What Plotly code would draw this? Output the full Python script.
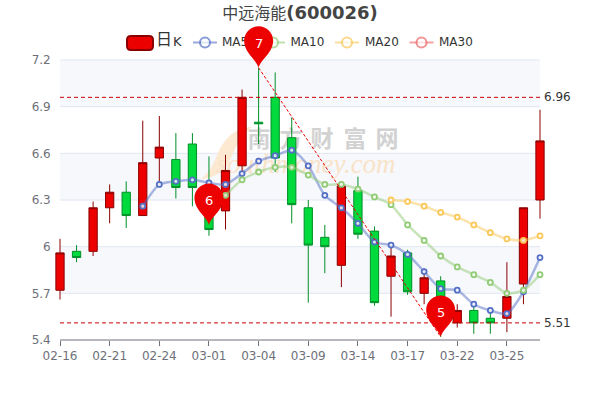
import plotly.graph_objects as go

dates = ["02-16","02-17","02-18","02-21","02-22","02-23","02-24","02-25","02-28","03-01",
         "03-02","03-03","03-04","03-07","03-08","03-09","03-10","03-11","03-14","03-15",
         "03-16","03-17","03-18","03-21","03-22","03-23","03-24","03-25","03-28","03-29"]
tick_dates = ["02-16","02-21","02-24","03-01","03-04","03-09","03-14","03-17","03-22","03-25"]
opens  = [5.72,5.97,5.97,6.25,6.35,6.20,6.57,6.56,6.66,6.30,6.23,6.52,6.80,6.96,6.70,6.25,6.06,5.88,6.36,6.10,5.81,5.96,5.70,5.78,5.51,5.59,5.54,5.54,5.76,6.30]
closes = [5.96,5.93,6.25,6.35,6.20,6.54,6.64,6.38,6.38,6.11,6.49,6.96,6.79,6.57,6.27,6.01,6.00,6.39,6.08,5.64,5.94,5.71,5.80,5.58,5.59,5.51,5.51,5.68,6.25,6.68]
lows   = [5.66,5.90,5.94,6.15,6.12,6.20,6.40,6.31,6.26,6.07,6.11,6.46,6.66,6.48,6.15,5.64,5.83,5.74,6.05,5.62,5.55,5.69,5.63,5.42,5.48,5.44,5.44,5.45,5.63,6.18]
highs  = [6.05,6.01,6.29,6.40,6.42,6.81,6.84,6.73,6.73,6.58,6.59,7.01,7.15,7.12,6.83,6.30,6.14,6.40,6.45,6.13,6.01,5.98,5.86,5.81,5.63,5.62,5.58,5.90,6.25,6.88]
ma5  = [None]*5 + [6.26,6.40,6.42,6.43,6.41,6.40,6.47,6.55,6.585,6.62,6.52,6.33,6.25,6.15,6.03,6.01,5.95,5.84,5.73,5.72,5.63,5.59,5.57,5.71,5.93]
ma10 = [None]*10 + [6.33,6.43,6.48,6.51,6.51,6.46,6.40,6.40,6.37,6.32,6.27,6.14,6.04,5.94,5.87,5.82,5.77,5.70,5.72,5.82]
ma20 = [None]*20 + [6.30,6.29,6.26,6.22,6.19,6.14,6.09,6.05,6.04,6.07]
ma30 = [None]*30
ma_names = ["MA5","MA10","MA20","MA30"]
ma_rgb = ["84,112,198","145,204,117","250,200,88","238,102,102"]
mark_levels = [6.96,5.51]
pins = [("03-04",7.15,"7"),("03-01",6.14,"6"),("03-21",5.42,"5")]
yticks = [5.4,5.7,6.0,6.3,6.6,6.9,7.2]
yticklabels = ["5.4","5.7","6","6.3","6.6","6.9","7.2"]
wm_chars = ["南","方","财","富","网"]
wm_x = [259,291,322,355,387]

FONT = "DejaVu Sans, Noto Sans CJK SC, sans-serif"
L, R, T, B = 60.0, 540.0, 60.0, 340.0
step = (R-L)/29
x_lo, x_hi = L-step/2, R+step/2
def px(i): return (L+i*step)/600
def py(v): return (400-(T+(7.2-v)/1.8*(B-T)))/400

fig = go.Figure()
# full-canvas layer: watermark + legend, under the chart subplot
fig.add_trace(go.Scatter(x=wm_x, y=[141]*5, text=wm_chars, mode="text", xaxis="x", yaxis="y",
    textfont=dict(family="Noto Sans CJK SC", size=23, color="#d2d2d2", weight=700), hoverinfo="skip"))
fig.add_trace(go.Scatter(x=[306], y=[166], text=["southmoney.com"], mode="text",
    textfont=dict(family="Liberation Serif", size=27, color="#f9e3c8", style="italic"), hoverinfo="skip"))
legend_cx = [205,273,347,421.5]
legend_tx = [222,290.5,365,439]
for cx, rgb in zip(legend_cx, ma_rgb):
    fig.add_trace(go.Scatter(x=[cx-12,cx,cx+12], y=[42.5]*3, mode="lines+markers", hoverinfo="skip",
        line=dict(color=f"rgba({rgb},0.6)", width=2),
        marker=dict(size=[0,10,0], color="white", line=dict(color=f"rgb({rgb})", width=2))))
fig.add_trace(go.Scatter(x=legend_tx, y=[42.5]*4, text=ma_names, mode="text", textposition="middle right",
    textfont=dict(family=FONT, size=12, color="#333333"), hoverinfo="skip"))
fig.add_trace(go.Scatter(x=[156,173], y=[41,42.5], text=["日","K"], mode="text", textposition="middle right",
    textfont=dict(family=FONT, size=[16,13], color="#333333"), hoverinfo="skip"))

# chart subplot
fig.add_trace(go.Candlestick(x=dates, open=opens, close=closes, low=lows, high=highs,
    xaxis="x2", yaxis="y2", whiskerwidth=0,
    increasing=dict(fillcolor="#ec0000", line=dict(color="#8a0000", width=1)),
    decreasing=dict(fillcolor="#00da3c", line=dict(color="#008f28", width=1))))
for name, vals, rgb in zip(ma_names, [ma5,ma10,ma20,ma30], ma_rgb):
    fig.add_trace(go.Scatter(x=dates, y=vals, name=name, mode="lines+markers", xaxis="x2", yaxis="y2",
        line=dict(color=f"rgba({rgb},0.5)", width=2.5, shape="spline", smoothing=0.7),
        marker=dict(size=5, color="rgba(255,255,255,0.8)", line=dict(color=f"rgb({rgb})", width=1.8)), hoverinfo="skip"))

shapes = []
# split areas and gridlines
for k in range(6):
    if k % 2 == 1:
        shapes.append(dict(type="rect", xref="paper", yref="paper", x0=px(0), x1=px(29),
            y0=py(yticks[k]), y1=py(yticks[k+1]), fillcolor="#f6f8fc", line=dict(width=0), layer="below"))
for v in yticks[1:]:
    shapes.append(dict(type="line", xref="paper", yref="paper", x0=px(0), x1=px(29), y0=py(v), y1=py(v),
        line=dict(color="#e0e6f1", width=1), layer="below"))
shapes.append(dict(type="line", xref="paper", yref="paper", x0=px(0), x1=px(29), y0=py(5.4), y1=py(5.4),
    line=dict(color="#6e7079", width=1), layer="below"))
# watermark swoosh
shapes.append(dict(type="path", xref="x", yref="y", layer="below", line=dict(width=0), fillcolor="#fde8d2",
    path="M 252 127 C 232 128 222 142 216 158 C 212 168 207 174 201 179 C 216 178 226 170 231 158 C 236 146 242 134 252 127 Z"))
# legend candle glyph
shapes.append(dict(type="path", xref="x", yref="y", layer="below", fillcolor="#ec0000",
    line=dict(color="#8a0000", width=2),
    path="M 131 36 L 149 36 Q 153 36 153 40 L 153 46 Q 153 50 149 50 L 131 50 Q 127 50 127 46 L 127 40 Q 127 36 131 36 Z"))
# mark lines
for v in mark_levels:
    shapes.append(dict(type="line", xref="x2", yref="y2", x0=dates[0], x1=dates[-1], y0=v, y1=v,
        line=dict(color="#cc0000", width=1, dash="4px,3px"), layer="above"))
shapes.append(dict(type="line", xref="x2", yref="y2", x0=pins[0][0], x1=pins[2][0], y0=pins[0][1], y1=pins[2][1],
    line=dict(color="#ee0000", width=1, dash="3px,2px"), layer="above"))
# pins
PIN = "M 0 0 C -2 8 -14.5 15 -14.5 27 C -14.5 35 -8 41.5 0 41.5 C 8 41.5 14.5 35 14.5 27 C 14.5 15 2 8 0 0 Z"
for d, v, _ in pins:
    shapes.append(dict(type="path", xref="paper", yref="paper", xsizemode="pixel", ysizemode="pixel",
        xanchor=px(dates.index(d)), yanchor=py(v), path=PIN, fillcolor="#ec0000", line=dict(width=0), layer="above"))

annotations = [dict(xref="x2", yref="y2", x=d, y=v, text=t, showarrow=False, yshift=24,
                    font=dict(family=FONT, size=13, color="white")) for d, v, t in pins]
annotations += [dict(xref="x2", yref="y2", x=dates[-1], y=v, text=f"{v:.2f}", showarrow=False, xanchor="left",
                     xshift=2, font=dict(family=FONT, size=12, color="#333333")) for v in mark_levels]

fig.update_layout(
    width=600, height=400, autosize=False, showlegend=False,
    margin=dict(l=0, r=0, t=0, b=0, autoexpand=False), paper_bgcolor="white", plot_bgcolor="rgba(0,0,0,0)",
    title=dict(text='<span style="font-size:16px;font-weight:400">中远海能</span><b>(600026)</b>',
               x=0.5, xanchor="center", y=1-13/400, yanchor="middle",
               font=dict(family=FONT, size=18, color="#444444")),
    xaxis=dict(domain=[0,1], range=[0,600], visible=False, fixedrange=True),
    yaxis=dict(domain=[0,1], range=[400,0], visible=False, fixedrange=True),
    xaxis2=dict(domain=[x_lo/600, x_hi/600], anchor="y2", type="category", categoryorder="array", categoryarray=dates,
        range=[-0.5,29.5], tickmode="array", tickvals=tick_dates, ticktext=tick_dates, ticks="outside", ticklen=5,
        tickcolor="#6e7079", tickwidth=1, showgrid=False, showline=False, zeroline=False,
        rangeslider=dict(visible=False), tickangle=0, automargin=False,
        tickfont=dict(family=FONT, size=12, color="#6e7079")),
    yaxis2=dict(domain=[(400-B)/400, (400-T)/400], anchor="x2", range=[5.4,7.2], tickmode="array", automargin=False,
        tickvals=yticks, ticktext=yticklabels, showgrid=False, zeroline=False, showline=False, ticks="",
        tickfont=dict(family=FONT, size=12, color="#6e7079")),
    boxgap=0.5, boxgroupgap=0, shapes=shapes, annotations=annotations,
)
fig.write_html("out.html", config=dict(displayModeBar=False), post_script="document.body.style.margin='0';")
